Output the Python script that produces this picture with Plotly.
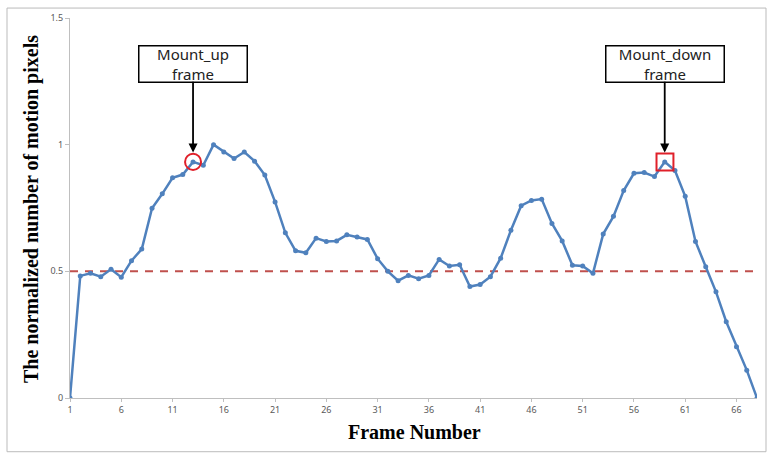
import plotly.graph_objects as go

# Normalized motion-pixel count per frame
frames = list(range(1, 69))
motion = [
    0.0, 0.482, 0.492, 0.479, 0.508, 0.477, 0.542, 0.588, 0.749, 0.806,
    0.869, 0.882, 0.932, 0.919, 1.0, 0.971, 0.945, 0.971, 0.935, 0.880,
    0.774, 0.652, 0.581, 0.573, 0.631, 0.618, 0.620, 0.644, 0.636, 0.626,
    0.550, 0.500, 0.463, 0.484, 0.471, 0.484, 0.547, 0.521, 0.526, 0.440,
    0.448, 0.479, 0.552, 0.662, 0.759, 0.780, 0.785, 0.689, 0.620, 0.524,
    0.521, 0.492, 0.647, 0.717, 0.819, 0.887, 0.890, 0.874, 0.932, 0.898,
    0.796, 0.618, 0.518, 0.419, 0.301, 0.202, 0.110, 0.0,
]
threshold = 0.5
x_ticks = list(range(1, 67, 5))
y_ticks = [0, 0.5, 1, 1.5]
y_tick_text = ["0", "0.5", "1", "1.5"]

mount_up_frame = 13
mount_down_frame = 59

W, H = 768, 454
L, R, T, B = 70, 11, 16, 56
pw, ph = W - L - R, H - T - B


def px_x(p):
    return (p - L) / pw


def px_y(p):
    return (H - B - p) / ph


fig = go.Figure()

fig.add_trace(go.Scatter(
    x=[frames[0], frames[-1]], y=[threshold, threshold], mode="lines",
    line=dict(color="#C0504D", width=2, dash="8px,7px"),
    hoverinfo="skip", showlegend=False,
))

fig.add_trace(go.Scatter(
    x=frames, y=motion, mode="lines+markers",
    line=dict(color="#4F81BD", width=2.5),
    marker=dict(color="#4F81BD", size=5),
    showlegend=False,
))

up_y = motion[mount_up_frame - 1]
down_y = motion[mount_down_frame - 1]

# Highlight markers: circle on Mount_up, square on Mount_down
fig.add_shape(type="circle", xref="x", yref="y",
              x0=mount_up_frame - 0.78, x1=mount_up_frame + 0.78,
              y0=up_y - 0.032, y1=up_y + 0.032,
              line=dict(color="#E0202A", width=2))
fig.add_shape(type="rect", xref="x", yref="y",
              x0=mount_down_frame - 0.8, x1=mount_down_frame + 0.85,
              y0=down_y - 0.034, y1=down_y + 0.033,
              line=dict(color="#E0202A", width=2))

# Outer frame
fig.add_shape(type="rect", xref="paper", yref="paper",
              x0=px_x(7), x1=px_x(766), y0=px_y(452), y1=px_y(6),
              line=dict(color="#BBBBBB", width=1))

box_font = dict(family="Noto Sans", size=15, color="#222222")
for fr, label, w in [(mount_up_frame, "Mount_up<br>frame", 107),
                     (mount_down_frame, "Mount_down<br>frame", 117)]:
    fig.add_annotation(
        x=fr, y=0.969, xref="x", yref="y",
        text=label, font=box_font, align="center",
        showarrow=True, arrowhead=2, arrowsize=1, arrowwidth=1.8,
        arrowcolor="#000000", ax=0, ay=-89,
        bordercolor="#000000", borderwidth=1.5, bgcolor="#FFFFFF",
        width=w, height=35, borderpad=0,
    )

title_font = dict(family="Liberation Serif", size=20, color="#000000")
fig.add_annotation(
    x=px_x(32), y=px_y(208), xref="paper", yref="paper",
    xanchor="center", yanchor="middle",
    text="<b>The normalized number of motion pixels</b>",
    textangle=-90, showarrow=False, font=title_font,
)
fig.add_annotation(
    x=px_x(414), y=px_y(432), xref="paper", yref="paper",
    xanchor="center", yanchor="middle",
    text="<b>Frame Number</b>", showarrow=False, font=title_font,
)

tick_font = dict(family="Noto Sans", size=9, color="#595959")
fig.update_xaxes(
    range=[1, 68], tickvals=x_ticks, tickfont=tick_font,
    showline=True, linecolor="#BFBFBF", linewidth=1,
    ticks="outside", ticklen=3, tickcolor="#BFBFBF",
    showgrid=False, zeroline=False,
)
fig.update_yaxes(
    range=[0, 1.5], tickvals=y_ticks, ticktext=y_tick_text, tickfont=tick_font,
    showline=True, linecolor="#BFBFBF", linewidth=1,
    ticks="outside", ticklen=4, tickcolor="#BFBFBF",
    showgrid=False, zeroline=False,
)

fig.update_layout(
    width=W, height=H,
    margin=dict(l=L, r=R, t=T, b=B),
    paper_bgcolor="#FFFFFF", plot_bgcolor="#FFFFFF",
    showlegend=False,
)

fig.write_html("out.html")
